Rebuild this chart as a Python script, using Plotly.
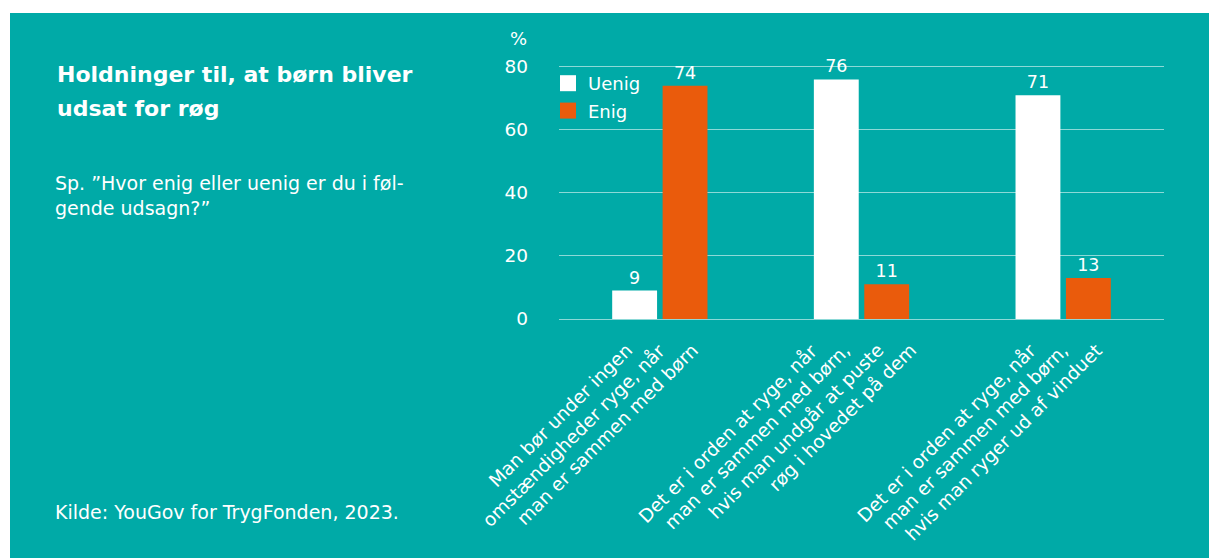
import plotly.graph_objects as go

# data
categories = ["Man bør under ingen omstændigheder ryge, når man er sammen med børn",
              "Det er i orden at ryge, når man er sammen med børn, hvis man undgår at puste røg i hovedet på dem",
              "Det er i orden at ryge, når man er sammen med børn, hvis man ryger ud af vinduet"]
label_lines = [
    ["Man bør under ingen", "omstændigheder ryge, når", "man er sammen med børn"],
    ["Det er i orden at ryge, når", "man er sammen med børn,", "hvis man undgår at puste", "røg i hovedet på dem"],
    ["Det er i orden at ryge, når", "man er sammen med børn,", "hvis man ryger ud af vinduet"],
]
uenig = [9, 76, 71]
enig = [74, 11, 13]
y_ticks = [0, 20, 40, 60, 80]

title_lines = ["Holdninger til, at børn bliver", "udsat for røg"]
sub_lines = ["Sp. \u201dHvor enig eller uenig er du i føl-", "gende udsagn?\u201d"]
source = "Kilde: YouGov for TrygFonden, 2023."

TEAL = "#00AAA7"
ORANGE = "#EA5B0C"
FONT = "DejaVu Sans"

W, H = 1209, 558
L, R, T, B = 559, 1164, 51, 319   # plot area in pixels


def px(x):
    return (x - L) / (R - L)


def py(y):
    return (B - y) / (B - T)


fig = go.Figure()
fig.add_trace(go.Bar(x=categories, y=uenig, name="Uenig", marker_color="white",
                     texttemplate="%{y}", textposition="outside", cliponaxis=False,
                     showlegend=False))
fig.add_trace(go.Bar(x=categories, y=enig, name="Enig", marker_color=ORANGE,
                     texttemplate="%{y}", textposition="outside", cliponaxis=False,
                     showlegend=False))
fig.update_traces(textfont=dict(color="white", size=17.5, family=FONT), marker_line_width=0)

# legend entries with bigger squares
for name, col in [("Uenig", "white"), ("Enig", ORANGE)]:
    fig.add_trace(go.Scatter(x=[categories[0]], y=[None], mode="markers", name=name,
                             legendgroup=name,
                             marker=dict(symbol="square", size=16, color=col)))

ann = []
for i, lines in enumerate(label_lines):
    n = len(lines)
    for j, line in enumerate(lines):
        ann.append(dict(x=categories[i], y=0, xref="x", yref="y", text=line,
                        textangle=-45, showarrow=False, xanchor="right", yanchor="top",
                        xshift=(j - (n - 1) / 2) * 33 + 12, yshift=-18,
                        font=dict(color="white", size=18.5, family=FONT)))

for k, line in enumerate(title_lines):
    ann.append(dict(x=px(55), y=py(74 + k * 35), xref="paper", yref="paper", text="<b>" + line + "</b>",
                    showarrow=False, xanchor="left", yanchor="middle",
                    font=dict(color="white", size=22, family=FONT)))
for k, line in enumerate(sub_lines):
    ann.append(dict(x=px(53), y=py(183 + k * 25), xref="paper", yref="paper", text=line,
                    showarrow=False, xanchor="left", yanchor="middle",
                    font=dict(color="white", size=19, family=FONT)))
ann.append(dict(x=px(53), y=py(512), xref="paper", yref="paper", text=source,
                showarrow=False, xanchor="left", yanchor="middle",
                font=dict(color="white", size=19, family=FONT)))
ann.append(dict(x=px(529), y=py(38), xref="paper", yref="paper", text="%",
                showarrow=False, xanchor="right", yanchor="middle",
                font=dict(color="white", size=18, family=FONT)))

fig.update_layout(
    width=W, height=H,
    margin=dict(l=L, r=W - R, t=T, b=H - B, pad=0),
    paper_bgcolor="white",
    plot_bgcolor="rgba(0,0,0,0)",
    barmode="group", bargap=0.5, bargroupgap=0.11,
    annotations=ann,
    shapes=[dict(type="rect", xref="paper", yref="paper", x0=px(10), x1=px(1230),
                 y0=py(580), y1=py(13), fillcolor=TEAL, line_width=0, layer="below")],
    xaxis=dict(type="category", range=[-0.5, 2.5], showticklabels=False,
               showgrid=False, zeroline=False, showline=False),
    yaxis=dict(range=[0, 85], tickvals=y_ticks, showgrid=True,
               gridcolor="rgba(255,255,255,0.55)", gridwidth=1,
               zeroline=True, zerolinecolor="rgba(255,255,255,0.55)", zerolinewidth=1,
               tickfont=dict(color="white", size=18.5, family=FONT),
               ticklabelstandoff=30),
    legend=dict(x=px(548), y=py(65), xanchor="left", yanchor="top",
                font=dict(color="white", size=18, family=FONT),
                bgcolor="rgba(0,0,0,0)", itemwidth=30, tracegroupgap=1,
                traceorder="grouped"),
    showlegend=True,
)

# drop the default page margin so the figure sits at the top-left corner
fig.write_html("out.html", config={"displayModeBar": False},
               post_script="document.body.style.margin='0';document.body.style.overflow='hidden';")
